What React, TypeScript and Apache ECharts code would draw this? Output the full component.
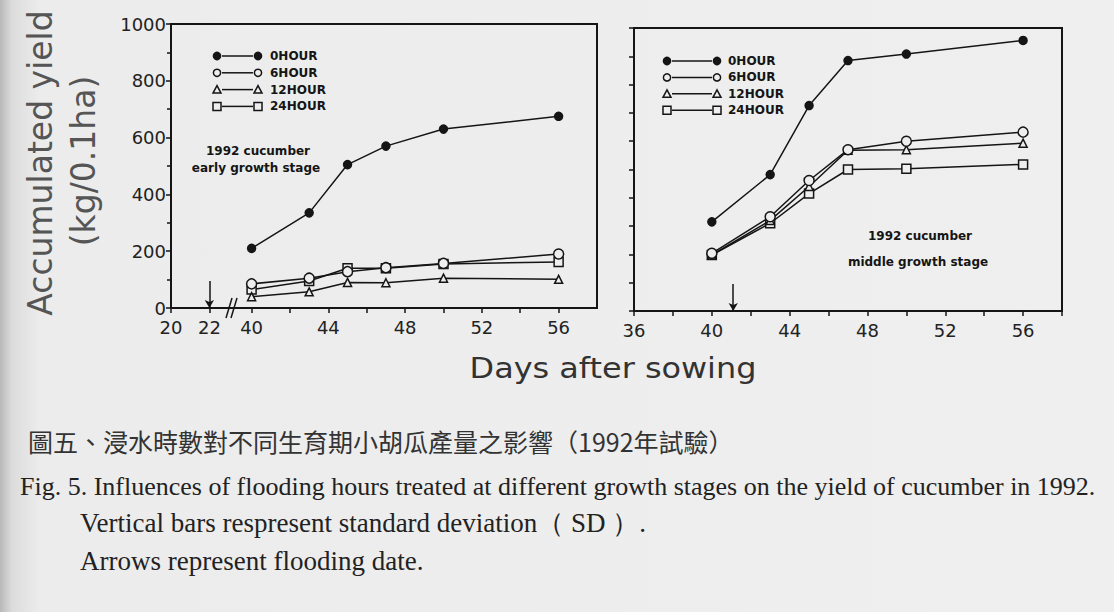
import React, { useEffect, useRef } from "react";
import * as echarts from "echarts";

// ---------- data ----------
const seriesNames = ["0HOUR", "6HOUR", "12HOUR", "24HOUR"];
const days = [40, 43, 45, 47, 50, 56];

const earlyH0 = [210, 335, 505, 570, 630, 675];
const earlyH6 = [85, 105, 128, 142, 157, 190];
const earlyH12 = [40, 57, 90, 89, 105, 101];
const earlyH24 = [65, 95, 140, 140, 155, 162];

const middleH0 = [315, 482, 726, 885, 908, 956];
const middleH6 = [204, 333, 461, 570, 600, 632];
const middleH12 = [198, 320, 440, 568, 570, 593];
const middleH24 = [198, 310, 415, 500, 503, 518];

const earlyTickDays = [20, 22, 40, 42, 44, 46, 48, 50, 52, 54, 56];
const earlyLabelDays = [20, 22, 40, 44, 48, 52, 56];
const floodEarly = 22;
const floodMiddle = 41.1;
const arrowTop = 95;

// broken x axis of the left panel: days 23..39 are cut out
const SHIFT = 15.8;
const toAxis = (d: number) => (d >= 30 ? d - SHIFT : d);
const fromAxis = (v: number) => (v > 23 ? v + SHIFT : v);

const BG = "#eeeeee";
const INK = "#151515";

const symbolStyles = [
  { symbol: "circle", size: 8, fill: INK },
  { symbol: "circle", size: 10, fill: BG },
  { symbol: "triangle", size: 8, fill: BG },
  { symbol: "rect", size: 9, fill: BG },
];

function makeSeries(values: number[], idx: number, panel: number, mapX: (d: number) => number) {
  const s = symbolStyles[idx];
  const series: any = {
    name: seriesNames[idx],
    type: "line",
    xAxisIndex: panel,
    yAxisIndex: panel,
    data: days.map((d, i) => [mapX(d), values[i]]),
    symbol: s.symbol,
    symbolSize: s.size,
    showSymbol: true,
    z: 10 - idx,
    lineStyle: { color: INK, width: 1.5 },
    itemStyle: { color: s.fill, borderColor: INK, borderWidth: 1.5 },
  };
  if (idx === 0) {
    const fx = panel === 0 ? floodEarly : floodMiddle;
    series.markLine = {
      silent: true,
      symbol: ["none", "arrow"],
      symbolSize: [7, 8],
      label: { show: false },
      lineStyle: { color: INK, width: 1.5, type: "solid" },
      data: [[{ coord: [fx, arrowTop] }, { coord: [fx, 0] }]],
    };
  }
  return series;
}

function legendGraphic(x0: number, x1: number, y0: number, gap: number, textX: number) {
  const els: any[] = [];
  seriesNames.forEach((name, i) => {
    const y = y0 + i * gap;
    const fill = i === 0 ? INK : BG;
    const mk = (x: number) => {
      if (i <= 1) return { type: "circle", shape: { cx: x, cy: y, r: 3.6 }, style: { fill, stroke: INK, lineWidth: 1.5 }, z: 20 };
      if (i === 2)
        return { type: "polygon", shape: { points: [[x - 4, y + 3.5], [x + 4, y + 3.5], [x, y - 4]] }, style: { fill, stroke: INK, lineWidth: 1.5 }, z: 20 };
      return { type: "rect", shape: { x: x - 4, y: y - 4, width: 8, height: 8 }, style: { fill, stroke: INK, lineWidth: 1.5 }, z: 20 };
    };
    els.push({ type: "line", shape: { x1: x0 + 5, y1: y, x2: x1 - 5, y2: y }, style: { stroke: INK, lineWidth: 1.5 }, z: 19 });
    els.push(mk(x0));
    els.push(mk(x1));
    els.push({
      type: "text",
      x: textX,
      y,
      z: 20,
      style: { text: name, fill: INK, font: "bold 12px 'DejaVu Sans'", align: "left", verticalAlign: "middle", textAlign: "left", textVerticalAlign: "middle" },
    });
  });
  return els;
}

function txt(text: string, x: number, y: number, opts: any = {}) {
  const { fontSize = 12, family = "'DejaVu Sans'", weight = "normal", fill = INK, align = "center", rotation = 0, scaleX = 1 } = opts;
  return {
    type: "text",
    x,
    y,
    rotation,
    scaleX,
    z: 20,
    style: {
      text,
      fill,
      font: `${weight} ${fontSize}px ${family}`,
      align,
      verticalAlign: "middle",
      textAlign: align,
      textVerticalAlign: "middle",
    },
  };
}

export default function App() {
  const ref = useRef<HTMLDivElement>(null);
  useEffect(() => {
    if (!ref.current) return;
    const chart = echarts.init(ref.current, undefined, { renderer: "svg" });
    const axisFont = { fontFamily: "DejaVu Sans", fontSize: 18, color: "#222", lineHeight: 18 };
    const axisLine = { show: true, lineStyle: { color: INK, width: 2 } };
    const option: any = {
      animation: false,
      backgroundColor: "transparent",
      grid: [
        { left: 171, top: 24, width: 426, height: 284, show: true, borderColor: INK, borderWidth: 2, backgroundColor: "transparent" },
        { left: 634, top: 28, width: 428, height: 283, show: true, borderColor: INK, borderWidth: 2, backgroundColor: "transparent" },
      ],
      xAxis: [
        {
          type: "value",
          gridIndex: 0,
          min: 20,
          max: toAxis(58),
          axisLine,
          splitLine: { show: false },
          axisTick: { show: true, length: 5, lineStyle: { color: INK, width: 1.5 }, customValues: earlyTickDays.map(toAxis) },
          axisLabel: {
            ...axisFont,
            margin: 10,
            customValues: earlyLabelDays.map(toAxis),
            formatter: (v: number) => String(Math.round(fromAxis(v))),
          },
        },
        {
          type: "value",
          gridIndex: 1,
          min: 36,
          max: 58,
          interval: 2,
          axisLine,
          splitLine: { show: false },
          axisTick: { show: true, length: 5, lineStyle: { color: INK, width: 1.5 } },
          axisLabel: { ...axisFont, margin: 10, formatter: (v: number) => (v % 4 === 0 && v <= 56 ? String(v) : "") },
        },
      ],
      yAxis: [
        {
          type: "value",
          gridIndex: 0,
          min: 0,
          max: 1000,
          interval: 200,
          axisLine,
          splitLine: { show: false },
          axisTick: { show: true, length: 5, lineStyle: { color: INK, width: 1.5 } },
          minorTick: { show: true, splitNumber: 2, length: 4, lineStyle: { color: INK, width: 1.5 } },
          axisLabel: { ...axisFont, margin: 5, formatter: (v: number) => String(v) },
        },
        {
          type: "value",
          gridIndex: 1,
          min: 0,
          max: 1000,
          interval: 100,
          axisLine,
          splitLine: { show: false },
          axisTick: { show: true, length: 5, lineStyle: { color: INK, width: 1.5 } },
          axisLabel: { show: false },
        },
      ],
      series: [
        makeSeries(earlyH0, 0, 0, toAxis),
        makeSeries(earlyH6, 1, 0, toAxis),
        makeSeries(earlyH12, 2, 0, toAxis),
        makeSeries(earlyH24, 3, 0, toAxis),
        makeSeries(middleH0, 0, 1, (d) => d),
        makeSeries(middleH6, 1, 1, (d) => d),
        makeSeries(middleH12, 2, 1, (d) => d),
        makeSeries(middleH24, 3, 1, (d) => d),
      ],
      graphic: [
        ...legendGraphic(217, 258, 56, 16.8, 270),
        ...legendGraphic(667, 717, 61, 16.4, 728),
        txt("1992 cucumber", 258, 151, { fontSize: 12, weight: "bold" }),
        txt("early growth stage", 256, 168, { fontSize: 12, weight: "bold" }),
        txt("1992 cucumber", 920, 236, { fontSize: 12, weight: "bold" }),
        txt("middle growth stage", 918, 262, { fontSize: 12, weight: "bold" }),
        // axis break marks
        { type: "line", shape: { x1: 226, y1: 318, x2: 232, y2: 298 }, style: { stroke: INK, lineWidth: 1.5 }, z: 20 },
        { type: "line", shape: { x1: 231, y1: 318, x2: 237, y2: 298 }, style: { stroke: INK, lineWidth: 1.5 }, z: 20 },
        // axis titles
        txt("Accumulated yield", 40, 163, { fontSize: 33, fill: "#555", rotation: Math.PI / 2 }),
        txt("(kg/0.1ha)", 83, 161, { fontSize: 33, fill: "#555", rotation: Math.PI / 2 }),
        txt("Days after sowing", 613, 368, { fontSize: 29, fill: "#333", scaleX: 1.1 }),
        // caption
        txt("圖五、浸水時數對不同生育期小胡瓜產量之影響（1992年試驗）", 28, 441, { fontSize: 25, family: "'Noto Sans CJK TC'", fill: "#333", align: "left" }),
        txt("Fig. 5. Influences of flooding hours treated at different growth stages on the yield of cucumber in 1992.", 20, 486, { fontSize: 26, family: "'Liberation Serif'", fill: "#222", align: "left" }),
        txt("Vertical bars respresent standard deviation（ SD ）.", 80, 523, { fontSize: 27, family: "'Liberation Serif'", fill: "#222", align: "left" }),
        txt("Arrows represent flooding date.", 80, 561, { fontSize: 27, family: "'Liberation Serif'", fill: "#222", align: "left" }),
      ],
    };
    chart.setOption(option);
    return () => chart.dispose();
  }, []);
  return (
    <div
      ref={ref}
      style={{
        position: "absolute",
        left: 0,
        top: 0,
        width: 1114,
        height: 612,
        background: "linear-gradient(to right, #b8b8b8 0px, #dcdcdc 12px, #ececec 40px, #efefef 100%)",
      }}
    />
  );
}
